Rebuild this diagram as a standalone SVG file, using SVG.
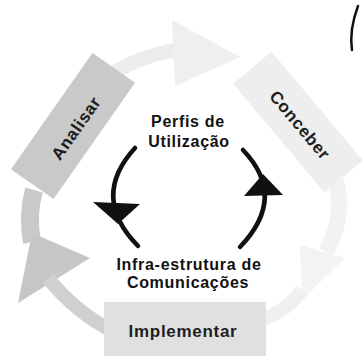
<svg xmlns="http://www.w3.org/2000/svg" width="364" height="356" viewBox="0 0 364 356">
  <style>
    .lbl { font-family: "Liberation Sans", Arial, sans-serif; font-weight: bold; text-anchor: middle; letter-spacing: 0.7px; }
    .inner { font-size: 16px; fill: #111; }
    .stage { font-size: 17px; fill: #1e1e1e; }
    .ring { fill: none; stroke-linecap: butt; }
    .cyc { fill: none; stroke: #111; stroke-width: 4.5; stroke-linecap: round; }
  </style>
  <rect width="364" height="356" fill="#ffffff"/>

  <g id="connectors">
    <!-- outer gray cycle ring -->
    <path class="ring" d="M34,190 Q27,215 32,242" stroke="#c9c9c9" stroke-width="18"/>
    <polygon points="32,233 90,258 18,303" fill="#c6c6c6"/>
    <path class="ring" d="M48,278 Q75,312 114,332" stroke="#d0d0d0" stroke-width="14"/>
    <path class="ring" d="M112,74 Q140,56 176,50" stroke="#ececec" stroke-width="14"/>
    <polygon points="172,20 240,57 175,86" fill="#efefef"/>
    <path class="ring" d="M336,180 Q346,215 326,252" stroke="#f2f2f2" stroke-width="16"/>
    <polygon points="300,245 345,258 302,300" fill="#f3f3f3"/>
    <path class="ring" d="M302,290 Q288,310 262,320" stroke="#f0f0f0" stroke-width="14"/>

    <!-- inner black cycle -->
    <path class="cyc" d="M135,148 Q90,197 138,246"/>
    <polygon points="93,202 140,204 118,224" fill="#111"/>
    <path class="cyc" d="M243,150 Q288,197 240,247"/>
    <polygon points="244,196 283,195 263,174" fill="#111"/>
  </g>

  <g id="analisar">
    <rect x="-71" y="-26" width="142" height="52" fill="#c9c9c9" transform="translate(73,126) rotate(-55)"/>
    <text class="lbl stage" fill="#222" transform="translate(76,128) rotate(-55)" y="6">Analisar</text>
  </g>

  <g id="conceber">
    <rect x="-71" y="-25" width="142" height="50" fill="#eeeeee" transform="translate(298,122) rotate(50)"/>
    <text class="lbl stage" transform="translate(300,125) rotate(50)" y="6">Conceber</text>
  </g>

  <g id="implementar">
    <rect x="104" y="302" width="162" height="54" fill="#e0e0e0"/>
    <text class="lbl stage" x="183" y="337">Implementar</text>
  </g>

  <g id="perfis">
    <text class="lbl inner" x="188" y="127">Perfis de</text>
    <text class="lbl inner" x="189" y="147">Utilização</text>
  </g>

  <g id="infra">
    <text class="lbl inner" x="189" y="270">Infra-estrutura de</text>
    <text class="lbl inner" x="188" y="288">Comunicações</text>
  </g>

  <path d="M358,6 Q349,30 352,50" fill="none" stroke="#111" stroke-width="2.5" stroke-linecap="round"/>
</svg>
